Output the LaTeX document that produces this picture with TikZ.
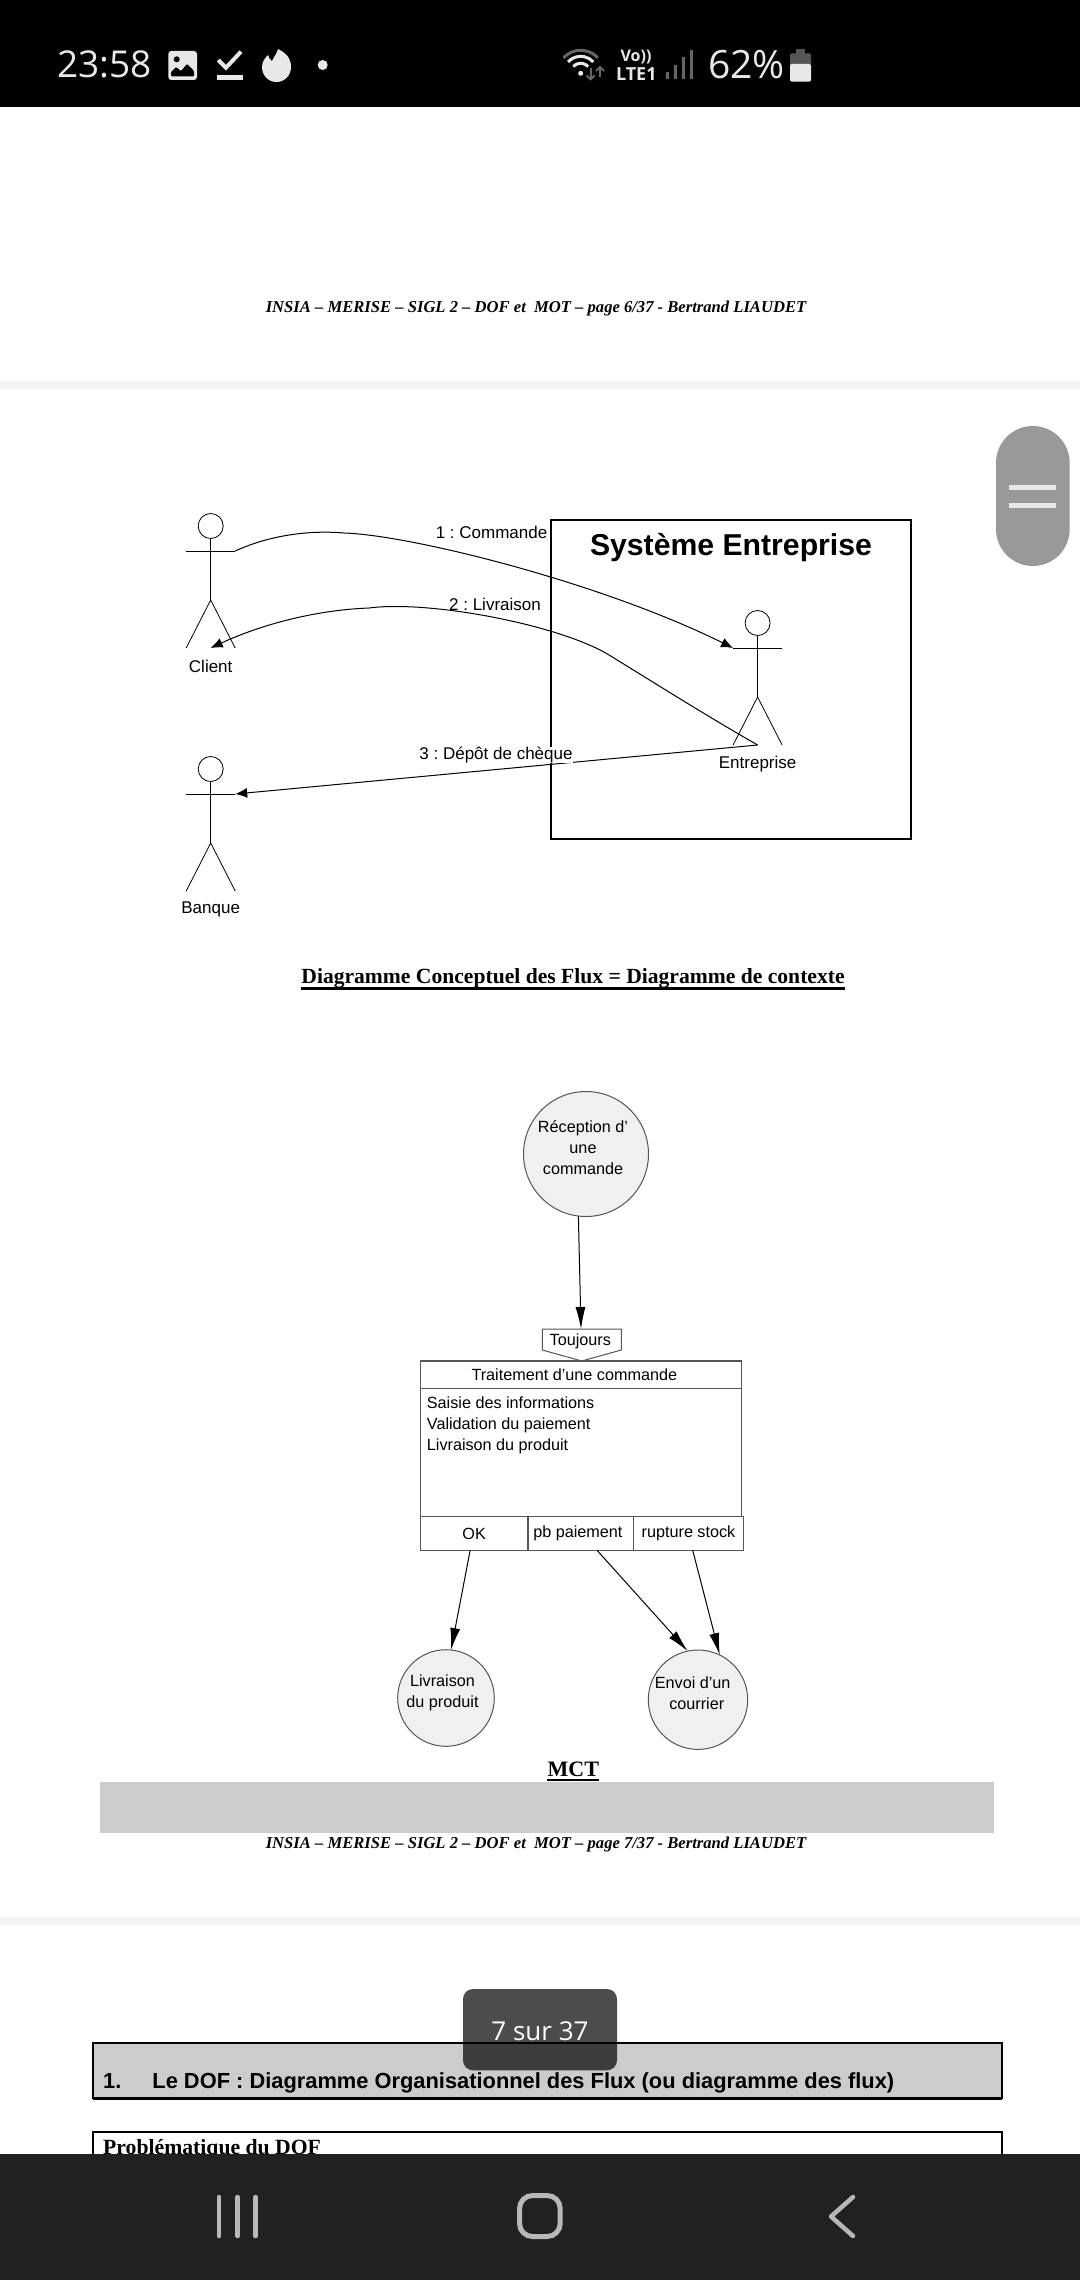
\documentclass[tikz,border=0pt]{standalone}
\usepackage{fontspec}
\usepackage{xcolor}
\usepackage{tikz}
\usetikzlibrary{calc}
\usetikzlibrary{arrows}
\usetikzlibrary{arrows.meta}
\usetikzlibrary{shapes}
\usetikzlibrary{positioning}
\usetikzlibrary{shapes.geometric}
\setmainfont{Liberation Serif}
\setsansfont{Liberation Sans}
\newfontfamily\statusfont{Open Sans}
\frenchspacing
\definecolor{barfill}{HTML}{CCCCCC}
\definecolor{pagegap}{HTML}{F3F3F3}
\definecolor{procfill}{HTML}{F0F0F0}
\definecolor{procline}{HTML}{555555}
\definecolor{navfill}{HTML}{212121}
\definecolor{navicon}{HTML}{B8B8B8}
\definecolor{statwhite}{HTML}{E8E8E8}
\definecolor{statgray}{HTML}{666666}
\definecolor{pillfill}{HTML}{999999}
\tikzset{>=latex}
\tikzset{umltext/.style = {font=\sffamily\fontsize{17}{21}\selectfont, inner sep=0, fill=white, outer sep=0}}
\tikzset{mcdtext/.style = {font=\sffamily\fontsize{16.2}{21}\selectfont, inner sep=0, align=center}}
\tikzset{headline/.style = {font=\rmfamily\bfseries\itshape\fontsize{16.6}{18}\selectfont, inner sep=0}}
\tikzset{caption/.style = {font=\rmfamily\bfseries\fontsize{21.6}{24}\selectfont, inner sep=0}}
\tikzset{proc/.style = {circle, draw=procline, fill=procfill, line width=1, inner sep=0, outer sep=0}}
\tikzset{cell/.style = {rectangle, draw=procline, line width=1.2, inner sep=0, outer sep=0, anchor=north west, font=\sffamily\fontsize{16.2}{21}\selectfont}}
\tikzset{umlflow/.style = {-{Latex[length=12pt,width=10pt]}, draw=black, line width=1}}
\tikzset{mcdflow/.style = {-{Latex[length=22pt,width=10pt]}, draw=black, line width=1}}
\tikzset{stat/.style = {font=\statusfont, text=statwhite, inner sep=0}}
\newcommand{\umlactor}[4]{
\node [circle, draw=black, line width=0.8, minimum size=25, inner sep=0, outer sep=0] (#1H) at (#2, #3) {};
\coordinate (#1L) at ($(#1H.center)+(-24.5, 25)$);
\coordinate (#1R) at ($(#1H.center)+(24.5, 25)$);
\coordinate (#1C) at ($(#1H.center)+(0, 74)$);
\coordinate (#1F) at ($(#1H.center)+(-24.5, 122)$);
\coordinate (#1G) at ($(#1H.center)+(24.5, 122)$);
\coordinate (#1B) at ($(#1H.center)+(0, 122)$);
\draw [line width=0.8] (#1H.south) to (#1C);
\draw [line width=0.8] (#1L) to (#1R);
\draw [line width=0.8] (#1F) to (#1C) to (#1G);
\node [umltext] (#1T) at ($(#1H.center)+(0, 140.7)$) {#4};
}

\begin{document}
\begin{tikzpicture}[x=1pt, y=-1pt]
\useasboundingbox (0, 0) rectangle (1080, 2280);
\fill [white] (0, 0) rectangle (1080, 2280);
\fill [pagegap] (0, 381) rectangle (1080, 389);
\fill [pagegap] (0, 1917) rectangle (1080, 1925);

\node [headline] (head6) at (536, 308.5) {INSIA – MERISE – SIGL 2 – DOF et\ \ MOT – page 6/37 - Bertrand LIAUDET};
\node [headline] (head7) at (536, 1844.5) {INSIA – MERISE – SIGL 2 – DOF et\ \ MOT – page 7/37 - Bertrand LIAUDET};

\node [rectangle, draw=black, line width=1.6, minimum width=360, minimum height=319, inner sep=0, outer sep=0, anchor=north west] (systeme) at (551, 520) {};
\node [font=\sffamily\bfseries\fontsize{30.2}{32}\selectfont, inner sep=0] (systemeT) at (731, 548) {Système Entreprise};

\umlactor{client}{210.7}{526}{Client}
\umlactor{banque}{210.7}{769}{Banque}
\umlactor{entreprise}{757.6}{623}{Entreprise}

\draw [umlflow] (clientR) .. controls (270, 535) and (310, 530) .. (344, 533) .. controls (410, 535) and (600, 582) .. (entrepriseL);
\draw [umlflow] (entrepriseB) .. controls (700, 712) and (650, 680) .. (609, 655) .. controls (560, 625) and (430, 600) .. (369, 608) .. controls (315, 610) and (260, 625) .. (clientB);
\draw [umlflow] (entrepriseB) to (banqueR);

\node [umltext] (flow1) at (491.5, 532) {1 : Commande};
\node [umltext] (flow2) at (495, 604) {2 : Livraison};
\node [umltext] (flow3) at (496, 755) {3 : Dépôt de chèque};

\node [caption] (contexte) at (573, 978.5) {Diagramme Conceptuel des Flux = Diagramme de contexte};
\draw [line width=2.4] ($(contexte.base west)+(0, 5)$) to ($(contexte.base east)+(0, 5)$);

\node [proc, minimum size=125] (reception) at (586, 1154) {};
\node [mcdtext] (receptionT) at (583, 1147.7) {Réception d'\\une\\commande};

\draw [fill=white, draw=procline, line width=1] (542.3, 1329) -- (621.3, 1329) -- (621.3, 1350) -- (581.7, 1361) -- (542.3, 1350) -- cycle;
\coordinate (toujoursN) at (581, 1329);
\node [mcdtext] (toujours) at (580.3, 1341) {Toujours};
\draw [mcdflow] (reception.263) to (toujoursN);

\node [cell, minimum width=321, minimum height=27.3] (traitement) at (420.3, 1361) {Traitement d'une commande\hspace*{13pt}};
\node [cell, minimum width=321, minimum height=128.4] (actions) at (420.3, 1388.3) {};
\node [mcdtext, align=left, anchor=north west] (actionsT) at (426.7, 1396.5) {Saisie des informations\\Validation du paiement\\Livraison du produit};
\node [cell, minimum width=107.7, minimum height=33.6] (cellok) at (420.3, 1516.7) {OK};
\node [cell, minimum width=105.7, minimum height=33.6] (cellpb) at (528, 1516.7) {pb paiement\hspace*{6pt}};
\node [cell, minimum width=109.6, minimum height=33.6] (cellstock) at (633.7, 1516.7) {rupture stock};

\node [proc, minimum size=96.6] (livraison) at (446, 1698) {};
\node [mcdtext] (livraisonT) at (442.5, 1693) {Livraison\\du produit};
\node [proc, minimum size=99.4] (envoi) at (698, 1699.7) {};
\node [mcdtext] (envoiT) at (692.7, 1693) {Envoi d'un\\\hspace{8pt}courrier};

\draw [mcdflow] ([xshift=-4pt]cellok.south) to (livraison.84);
\draw [mcdflow] ([xshift=16.2pt]cellpb.south) to (envoi.102);
\draw [mcdflow] ([xshift=4.2pt]cellstock.south) to (envoi.64.5);

\node [font=\rmfamily\bfseries\fontsize{22}{24}\selectfont, inner sep=0] (mct) at (573.3, 1769) {MCT};
\draw [line width=2.4] ($(mct.base west)+(0, 4)$) to ($(mct.base east)+(0, 4)$);
\fill [barfill] (100, 1782) rectangle (994, 1832.7);

\node [rectangle, draw=black, fill=barfill, line width=1.6, minimum width=909, minimum height=55.3, inner sep=0, outer sep=0, anchor=north west] (dofbox) at (93, 2042.7) {};
\draw [line width=3] (dofbox.south west) to (dofbox.south east);
\node [font=\sffamily\bfseries\fontsize{21.85}{24}\selectfont, inner sep=0, anchor=west] (doftitle) at (103, 2083) {1.\hspace{31pt}Le DOF : Diagramme Organisationnel des Flux (ou diagramme des flux)};
\node [rectangle, draw=black, fill=white, line width=1.6, minimum width=909, minimum height=60, inner sep=0, outer sep=0, anchor=north west] (probbox) at (93, 2132) {};
\node [font=\rmfamily\bfseries\fontsize{21.7}{24}\selectfont, inner sep=0, anchor=west] (probtitle) at (103, 2149.5) {Problématique du DOF};

\fill [black, opacity=0.7, rounded corners=10] (463, 1989) rectangle (617, 2070.3);
\node [stat, font=\statusfont\fontsize{26}{30}\selectfont, text=white] (pagecount) at (540, 2030.7) {7 sur 37};

\fill [pillfill, rounded corners=36.8] (996, 426) rectangle (1069.7, 566);
\fill [statwhite] (1009, 484.8) rectangle (1056, 489.8);
\fill [statwhite] (1009, 502.5) rectangle (1056, 507.5);

\fill [black] (0, 0) rectangle (1080, 107);
\node [stat, font=\statusfont\fontsize{37}{40}\selectfont, anchor=west] (clock) at (57, 64.5) {23:58};

\fill [statwhite, rounded corners=3] (168.3, 51) rectangle (197, 80);
\fill [black] (176.7, 59.3) circle (3);
\fill [black, rounded corners=1] (171, 76.5) -- (171, 72) -- (176, 67) -- (181, 71) -- (187, 64) -- (194, 71) -- (194, 76.5) -- cycle;
\draw [statwhite, line width=4] (218.3, 60) -- (226, 67.7) -- (241, 51.7);
\fill [statwhite] (217, 75.3) rectangle (242.7, 80.3);
\fill [statwhite] (278, 49) .. controls (290, 55) and (291, 62) .. (291, 67) .. controls (291, 76) and (284, 82) .. (276.5, 82) .. controls (268, 82) and (262, 75) .. (262, 67) .. controls (262, 62) and (265, 58) .. (268, 55) .. controls (269, 58) and (270, 60) .. (272, 61) .. controls (274, 57) and (277, 53) .. (278, 49) -- cycle;
\fill [statwhite] (322.7, 65) circle (5);

\coordinate (wifi) at (580.7, 73.3);
\draw [statgray, line width=3] (wifi) ++(222:23) arc [start angle=222, end angle=318, radius=23];
\draw [statwhite, line width=3] (wifi) ++(222:17) arc [start angle=222, end angle=318, radius=17];
\draw [statwhite, line width=3] (wifi) ++(222:10) arc [start angle=222, end angle=318, radius=10];
\fill [statwhite] (wifi) circle (2.5);
\draw [statgray, line width=2] (590.7, 68) -- (590.7, 79.3);
\draw [statgray, line width=2] (586.7, 75.5) -- (590.7, 79.3) -- (594.7, 75.5);
\draw [statgray, line width=2] (600, 67) -- (600, 77);
\draw [statgray, line width=2] (596, 71) -- (600, 67) -- (604, 71);

\node [stat, font=\statusfont\bfseries\fontsize{16}{18}\selectfont] (volte) at (636, 57) {Vo))};
\node [stat, font=\statusfont\bfseries\fontsize{18}{20}\selectfont] (lte) at (636.3, 74) {LTE1};
\draw [statgray, line width=3] (667, 79.3) -- (667, 72.3);
\draw [statgray, line width=3] (675, 79.3) -- (675, 65);
\draw [statgray, line width=3] (683, 79.3) -- (683, 57.3);
\draw [statgray, line width=3] (691, 79.3) -- (691, 50);
\node [stat, font=\statusfont\fontsize{39}{40}\selectfont, anchor=west] (battery) at (708, 64.5) {62\%};
\fill [procline] (796, 49.3) rectangle (805, 54);
\fill [procline, rounded corners=2] (790, 53.3) rectangle (811, 66);
\fill [statwhite, rounded corners=2] (790, 64) rectangle (811, 81.7);

\fill [navfill] (0, 2154) rectangle (1080, 2280);
\draw [navicon, line width=4.5, line cap=round] (219, 2197) -- (219, 2236);
\draw [navicon, line width=4.5, line cap=round] (237.6, 2197) -- (237.6, 2236);
\draw [navicon, line width=4.5, line cap=round] (255.5, 2197) -- (255.5, 2236);
\draw [navicon, line width=5, rounded corners=13] (519.5, 2195.5) rectangle (560.2, 2236.5);
\draw [navicon, line width=4.5, line cap=round, line join=round] (853, 2197) -- (831, 2216.5) -- (853, 2236);
\end{tikzpicture}
\end{document}
